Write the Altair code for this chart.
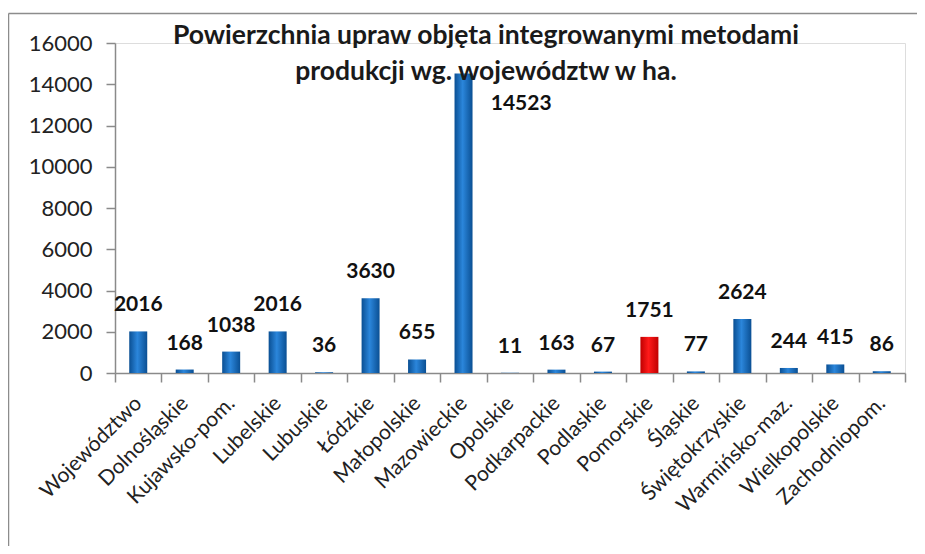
import altair as alt
import pandas as pd

categories = ["Województwo", "Dolnośląskie", "Kujawsko-pom.", "Lubelskie", "Lubuskie",
              "Łódzkie", "Małopolskie", "Mazowieckie", "Opolskie", "Podkarpackie",
              "Podlaskie", "Pomorskie", "Śląskie", "Świętokrzyskie", "Warmińsko-maz.",
              "Wielkopolskie", "Zachodniopom."]
values = [2016, 168, 1038, 2016, 36, 3630, 655, 14523, 11, 163, 67, 1751, 77, 2624, 244, 415, 86]
highlight = ["Pomorskie"]
title_lines = ["Powierzchnia upraw objęta integrowanymi metodami",
               "produkcji wg. województw w ha."]

df = pd.DataFrame({"kat": categories, "val": values})
df["hl"] = df["kat"].isin(highlight)

W, H = 790, 330
FONT = "Lato"

blue = alt.Gradient(gradient="linear", x1=0, x2=1, y1=0, y2=0,
                    stops=[alt.GradientStop(color="#0a4f93", offset=0),
                           alt.GradientStop(color="#2b86db", offset=0.45),
                           alt.GradientStop(color="#0a4f93", offset=1)])
red = alt.Gradient(gradient="linear", x1=0, x2=1, y1=0, y2=0,
                   stops=[alt.GradientStop(color="#c00000", offset=0),
                          alt.GradientStop(color="#ff1a1a", offset=0.45),
                          alt.GradientStop(color="#c00000", offset=1)])

x_enc = alt.X("kat:N", sort=categories, title=None,
              scale=alt.Scale(paddingInner=0, paddingOuter=0),
              axis=alt.Axis(labelAngle=-45, labelAlign="right", labelBaseline="middle",
                            labelFont=FONT, labelFontSize=21, labelColor="#222222",
                            labelPadding=18, tickSize=9, tickColor="#8a8a8a",
                            domainColor="#8a8a8a", domainWidth=1.5, tickWidth=1.5,
                            tickBand="extent", labelLimit=300))
y_enc = alt.Y("val:Q", title=None,
              scale=alt.Scale(domain=[0, 16000], nice=False),
              axis=alt.Axis(values=list(range(0, 16001, 2000)), grid=False, format="d",
                            labelFont=FONT, labelFontSize=22, labelColor="#222222",
                            labelPadding=14, tickSize=9, tickColor="#8a8a8a",
                            domainColor="#8a8a8a", domainWidth=1.5, tickWidth=1.5))

base = alt.Chart(df)

bars_blue = base.transform_filter("!datum.hl").mark_bar(size=18, color=blue).encode(x=x_enc, y=y_enc)
bars_red = base.transform_filter("datum.hl").mark_bar(size=18, color=red).encode(x=x_enc, y=y_enc)

labels = base.transform_filter("datum.val < 10000").mark_text(
    font=FONT, fontSize=21, fontWeight="bold", color="#111111", dy=-26, baseline="middle"
).encode(x=x_enc, y=y_enc, text="val:Q")

labels_big = base.transform_filter("datum.val >= 10000").mark_text(
    font=FONT, fontSize=21, fontWeight="bold", color="#111111", dx=4, dy=31,
    align="left", baseline="middle"
).encode(x=alt.X("kat:N", sort=categories, bandPosition=1), y=y_enc, text="val:Q")

one = pd.DataFrame({"a": [0]})
frame_top = alt.Chart(one).mark_rule(stroke="#8c8c8c", strokeWidth=1.5, clip=False).encode(
    x=alt.value(-106.5), x2=alt.value(W + 12), y=alt.value(-29.5))
frame_left = alt.Chart(one).mark_rule(stroke="#8c8c8c", strokeWidth=1.5, clip=False).encode(
    x=alt.value(-106.5), y=alt.value(-29.5), y2=alt.value(H + 173))

chart = alt.layer(frame_top, frame_left, bars_blue, bars_red, labels, labels_big).properties(
    width=W, height=H,
    padding={"left": 107, "top": 35, "right": 12, "bottom": 173},
    autosize=alt.AutoSizeParams(type="none"),
    title=alt.TitleParams(text=title_lines, font=FONT, fontSize=26.5, fontWeight="bold",
                          color="#1a1a1a", anchor="middle", offset=0, dy=73, dx=-24,
                          lineHeight=36),
).configure_view(stroke=None).configure(background="white")

chart.save("out.html", embed_options={"renderer": "svg", "actions": False})
